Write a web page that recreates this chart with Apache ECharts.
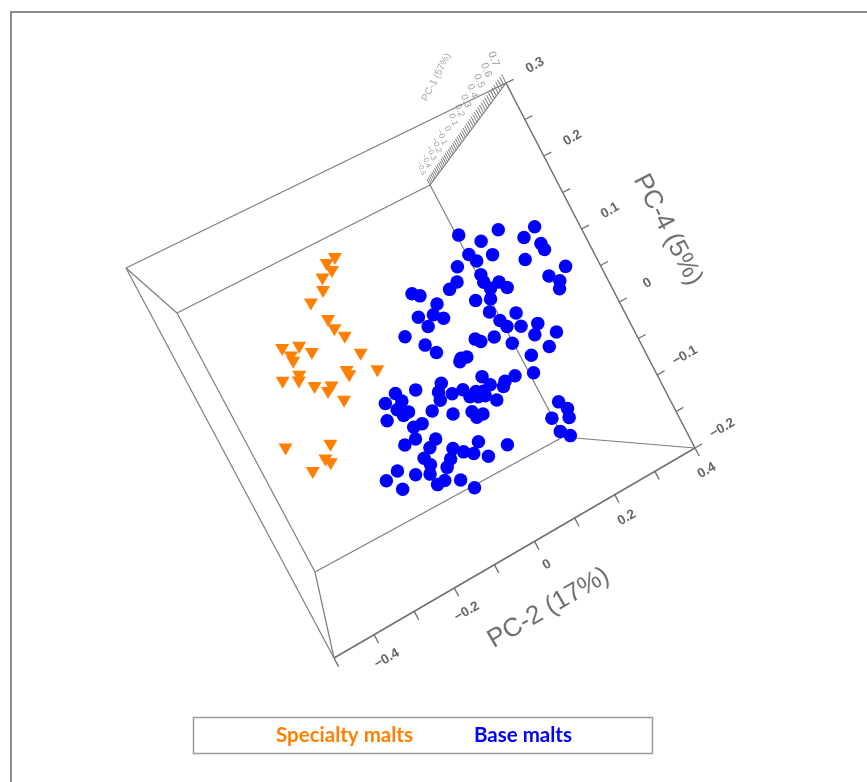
<!DOCTYPE html>
<html>
<head>
<meta charset="utf-8">
<script src="https://cdn.jsdelivr.net/npm/echarts@6/dist/echarts.min.js"></script>
<style>
  html, body { margin: 0; padding: 0; background: #ffffff; }
  #chart { width: 867px; height: 782px; }
</style>
</head>
<body>
<div id="chart"></div>
<script>
// ---------------- data ----------------
// Axis ranges of the 3-D PCA box
const PC2_RANGE = [-0.5, 0.4];   // x (PC-2, 17%)
const PC4_RANGE = [-0.2, 0.3];   // y (PC-4, 5%)
const PC1_RANGE = [-0.5, 0.7];   // z (PC-1, 57%), depth of the view

// tick marks and labels
const PC2_TICKS  = [-0.5, -0.4, -0.3, -0.2, -0.1, 0, 0.1, 0.2, 0.3, 0.4];
const PC2_LABELS = [-0.4, -0.2, 0, 0.2, 0.4];
const PC4_TICKS  = [0.3, 0.25, 0.2, 0.15, 0.1, 0.05, 0, -0.05, -0.1, -0.15, -0.2];
const PC4_LABELS = [0.3, 0.2, 0.1, 0, -0.1, -0.2];
const PC1_LABELS = [0.7, 0.6, 0.5, 0.4, 0.3, 0.2, 0.1, 0, -0.1, -0.2, -0.3, -0.4, -0.5];
const PC1_MINOR_STEP = 0.025;

// scores (PC-2, PC-4); PC-1 (depth) cannot be read from this view
const specialtyPC2 = [-0.080,-0.103,-0.100,-0.127,-0.139,-0.177,-0.160,-0.157,-0.144,-0.130,
  -0.284,-0.247,-0.228,-0.274,-0.275,-0.177,-0.176,-0.114,-0.318,-0.278,
  -0.285,-0.259,-0.224,-0.237,-0.214,-0.384,-0.289,-0.315,-0.308,-0.354];
const specialtyPC4 = [0.211,0.209,0.198,0.195,0.181,0.174,0.146,0.132,0.118,0.090,
  0.140,0.133,0.119,0.127,0.120,0.079,0.073,0.062,0.104,0.101,
  0.095,0.080,0.071,0.067,0.048,0.030,0.008,-0.005,-0.012,-0.011];

const basePC2 = [0.196,0.282,0.359,0.235,0.326,0.354,0.355,0.244,0.196,0.205,
  0.305,0.380,0.160,0.336,0.353,0.344,0.199,0.197,0.228,0.239,
  0.204,0.193,0.143,0.120,0.039,0.053,0.161,0.079,0.060,0.027,
  0.077,0.177,0.230,0.189,0.197,0.263,0.226,0.037,0.292,0.245,
  -0.021,0.160,0.119,0.128,0.190,0.262,0.011,0.026,0.216,0.070,
  0.083,0.064,0.202,0.161,0.093,0.135,0.101,0.126,0.003,-0.056,
  -0.012,0.014,0.040,0.065,0.080,0.047,0.064,0.079,-0.101,-0.132,
  -0.096,-0.017,0.098,-0.115,-0.094,-0.045,-0.006,0.035,0.055,0.039,
  -0.147,-0.108,-0.079,-0.100,-0.109,-0.068,-0.089,-0.137,0.016,0.072,
  -0.043,-0.025,-0.006,-0.112,-0.059,0.021,-0.106,-0.075,-0.180,-0.147,
  -0.117,-0.213,-0.189,-0.113,-0.094,-0.061,-0.041,0.222,0.233,0.227,
  0.191,0.194,0.210];
const basePC4 = [0.167,0.150,0.132,0.147,0.126,0.109,0.100,0.125,0.139,0.127,
  0.100,0.068,0.132,0.067,0.055,0.046,0.109,0.099,0.090,0.079,
  0.088,0.076,0.115,0.111,0.128,0.121,0.083,0.102,0.092,0.098,
  0.082,0.062,0.045,0.046,0.035,0.020,0.027,0.082,-0.001,0.009,
  0.084,0.031,0.040,0.034,0.013,-0.013,0.063,0.048,-0.012,0.027,
  0.025,0.024,-0.033,-0.025,-0.006,-0.025,-0.020,-0.030,0.011,0.019,
  0.003,-0.007,-0.009,-0.019,-0.023,-0.021,-0.026,-0.029,0.027,0.022,
  0.015,-0.007,-0.041,0.008,-0.001,-0.014,-0.030,-0.039,-0.048,-0.048,
  0.002,-0.002,-0.022,-0.021,-0.035,-0.047,-0.053,-0.035,-0.076,-0.097,
  -0.068,-0.078,-0.086,-0.061,-0.078,-0.098,-0.072,-0.085,-0.059,-0.074,
  -0.082,-0.063,-0.082,-0.098,-0.098,-0.107,-0.124,-0.081,-0.094,-0.105,
  -0.095,-0.115,-0.126];
const POINT_PC1 = 0.5; // common depth used for every point

// ---------------- layout (projection of the box) ----------------
const BOX_NEAR = { bl: [334, 658], br: [695, 448], tr: [506, 83], tl: [126, 268] };
const BOX_FAR  = { bl: [315, 572], br: [563, 437], tr: [430, 185], tl: [177, 313] };
const PERSP = 1.25;

function project(x, y, z) {
  const u = (x - PC2_RANGE[0]) / (PC2_RANGE[1] - PC2_RANGE[0]);
  const v = (y - PC4_RANGE[0]) / (PC4_RANGE[1] - PC4_RANGE[0]);
  const w = (z - PC1_RANGE[0]) / (PC1_RANGE[1] - PC1_RANGE[0]);
  const s = w / (PERSP * (1 - w) + w);
  const face = f => [0, 1].map(i => f.bl[i] + u * (f.br[i] - f.bl[i]) + v * (f.tl[i] - f.bl[i])
      + u * v * (f.tr[i] - f.tl[i] - f.br[i] + f.bl[i]));
  const a = face(BOX_FAR), b = face(BOX_NEAR);
  return [a[0] + s * (b[0] - a[0]), a[1] + s * (b[1] - a[1])];
}

function fmt(v) {
  if (Math.abs(v) < 1e-9) return '0';
  const t = Math.abs(v).toFixed(1);
  return v < 0 ? '\u2212' + t : t;
}

const FONT = "Liberation Sans, Arial, Helvetica, sans-serif";

function renderFrame(params, api) {
  const [X0, X1] = PC2_RANGE, [Y0, Y1] = PC4_RANGE, [Z0, Z1] = PC1_RANGE;
  const P = (x, y, z) => api.coord(project(x, y, z));
  const ch = [];
  const line = (a, b, st) => ch.push({ type: 'line',
    shape: { x1: a[0], y1: a[1], x2: b[0], y2: b[1] },
    style: Object.assign({ stroke: '#7d7d7d', lineWidth: 1.2 }, st) });
  const text = (p, str, rot, st) => ch.push({ type: 'text', x: p[0], y: p[1], rotation: rot,
    style: Object.assign({ text: str, fill: '#666666', fontSize: 13.5, fontFamily: FONT, fontWeight: 'bold',
      align: 'center', verticalAlign: 'middle' }, st) });
  const ang = (a, b) => -Math.atan2(b[1] - a[1], b[0] - a[0]);

  // box edges
  [Z0, Z1].forEach(z => {
    const st = z === Z1 ? { stroke: '#6e6e6e', lineWidth: 1.5 } : {};
    line(P(X0, Y0, z), P(X1, Y0, z), st);
    line(P(X1, Y0, z), P(X1, Y1, z), st);
    line(P(X1, Y1, z), P(X0, Y1, z));
    line(P(X0, Y1, z), P(X0, Y0, z));
  });
  [[X0, Y0], [X1, Y0], [X1, Y1], [X0, Y1]].forEach(([x, y]) => line(P(x, y, Z0), P(x, y, Z1)));

  // PC-2 axis (front bottom edge)
  PC2_TICKS.forEach(t => line(P(t, Y0, Z1), P(t, Y0 - 0.011, Z1), { stroke: '#6e6e6e', lineWidth: 1.3 }));
  const rot2 = ang(P(X0, Y0, Z1), P(X1, Y0, Z1));
  PC2_LABELS.forEach(t => text(P(t, Y0 - 0.031, Z1), fmt(t), rot2));
  text(P(-0.04, Y0 - 0.076, Z1), 'PC-2 (17%)', rot2, { fontSize: 26, fontWeight: 'normal', fill: '#707070' });

  // PC-4 axis (front right edge)
  PC4_TICKS.forEach(t => line(P(X1, t, Z1), P(X1 + 0.018, t, Z1), { stroke: '#6e6e6e', lineWidth: 1.3 }));
  PC4_LABELS.forEach(t => text(P(X1 + 0.072, t + 0.004, Z1), fmt(t), rot2));
  const rot4 = ang(P(X1, Y1, Z1), P(X1, Y0, Z1));
  text(P(X1 + 0.163, 0.05, Z1), 'PC-4 (5%)', rot4, { fontSize: 26, fontWeight: 'normal', fill: '#707070' });

  // PC-1 axis (depth edge, top right), dense hatch ticks
  for (let z = Z0; z <= Z1 + 1e-9; z += PC1_MINOR_STEP) {
    line(P(X1, Y1, z), P(X1, Y1 + 0.012, z), { stroke: '#777777', lineWidth: 1 });
  }
  PC1_LABELS.forEach(t => {
    const w = (t - Z0) / (Z1 - Z0);
    text(P(X1, Y1 + 0.033, t), fmt(t), -1.2,
      { fontSize: 7 + 4 * w, fontWeight: 'normal', fill: '#a0a0a0' });
  });
  text(P(X1, Y1 + 0.095, 0.15), 'PC-1 (57%)', 1.1, { fontSize: 10, fontWeight: 'normal', fill: '#a8a8a8' });

  return { type: 'group', children: ch };
}

const specialtyData = specialtyPC2.map((x, i) => project(x, specialtyPC4[i], POINT_PC1));
const baseData = basePC2.map((x, i) => project(x, basePC4[i], POINT_PC1));

const chart = echarts.init(document.getElementById('chart'), null, { renderer: 'canvas' });
chart.setOption({
  animation: false,
  backgroundColor: '#ffffff',
  grid: { left: 0, right: 0, top: 0, bottom: 0 },
  xAxis: { type: 'value', min: 0, max: 867, show: false },
  yAxis: { type: 'value', min: 0, max: 782, inverse: true, show: false },
  legend: {
    data: [
      { name: 'Specialty malts', textStyle: { color: '#ff7f00' } },
      { name: 'Base malts', textStyle: { color: '#0000ff' } }
    ],
    icon: 'rect', itemWidth: 0, itemHeight: 0, itemGap: 56,
    left: 271, top: 725, padding: 0, selectedMode: false,
    textStyle: { fontFamily: 'Lato, "Open Sans", sans-serif', fontWeight: 'bold', fontSize: 20.5 }
  },
  graphic: [
    { type: 'rect', shape: { x: 11, y: 12, width: 900, height: 800 },
      style: { fill: 'none', stroke: '#8c8c8c', lineWidth: 2 }, silent: true, z: -10 },
    { type: 'rect', shape: { x: 193.5, y: 717.5, width: 459, height: 36 },
      style: { fill: 'none', stroke: '#9a9a9a', lineWidth: 1.5 }, silent: true, z: -10 }
  ],
  series: [
    { name: 'frame', type: 'custom', renderItem: renderFrame, data: [[0, 0]],
      silent: true, clip: false, z: 1 },
    { name: 'Specialty malts', type: 'scatter', data: specialtyData,
      symbol: 'triangle', symbolRotate: 180, symbolSize: [14, 12],
      itemStyle: { color: '#ff7f00', opacity: 1 }, z: 3, emphasis: { disabled: true } },
    { name: 'Base malts', type: 'scatter', data: baseData,
      symbol: 'circle', symbolSize: 13.5,
      itemStyle: { color: '#0000ff', opacity: 1 }, z: 3, emphasis: { disabled: true } }
  ]
});
</script>
</body>
</html>
